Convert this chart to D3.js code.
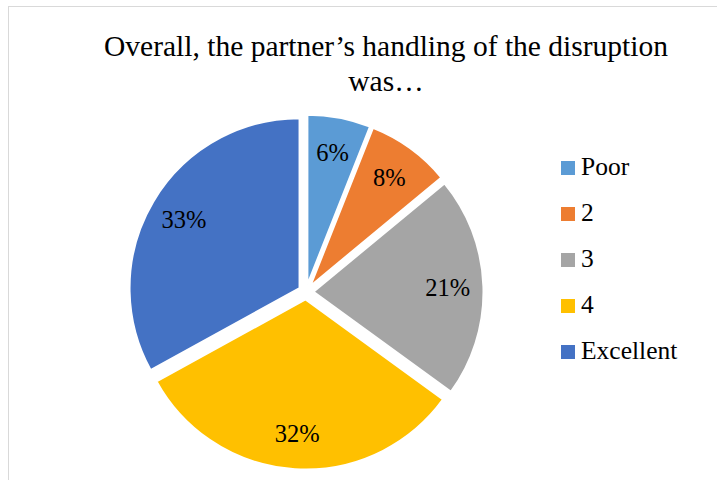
<!DOCTYPE html>
<html>
<head>
<meta charset="utf-8">
<script src="https://cdn.jsdelivr.net/npm/d3@7"></script>
</head>
<body style="margin:0">
<svg id="chart" width="717" height="480"></svg>
<script>
// Survey answers: share of respondents per rating
const categories = ["Poor", "2", "3", "4", "Excellent"];
const values = [6, 8, 21, 32, 33];
const colors = ["#5B9BD5", "#ED7D31", "#A5A5A5", "#FFC000", "#4472C4"];
const titleLines = ["Overall, the partner\u2019s handling of the disruption", "was\u2026"];

const FONT = "'Liberation Serif', Tinos, 'Times New Roman', FreeSerif, serif";
const svg = d3.select("#chart");

// chart frame (only its left and top edges fall inside the view)
svg.append("rect")
  .attr("x", 8.5).attr("y", 6.5)
  .attr("width", 900).attr("height", 700)
  .attr("fill", "#fff")
  .attr("stroke", "#d9d9d9")
  .attr("stroke-width", 1);

// two-line title
titleLines.forEach((line, i) => {
  svg.append("text")
    .attr("x", 386)
    .attr("y", 56 + i * 35)
    .attr("text-anchor", "middle")
    .style("font-family", FONT)
    .style("font-size", "29.5px")
    .attr("fill", "#000")
    .text(line);
});

// exploded pie
const cx = 306, cy = 292, R = 170, explode = 7.5;
const pie = d3.pie().sort(null).value(d => d.value);
const arcs = pie(categories.map((c, i) => ({ cat: c, value: values[i], color: colors[i] })));
const arc = d3.arc().innerRadius(0).outerRadius(R);
const total = d3.sum(values);

const mid = d => (d.startAngle + d.endAngle) / 2;
const offset = (d, r) => [Math.sin(mid(d)) * r, -Math.cos(mid(d)) * r];

const slices = svg.append("g").attr("transform", `translate(${cx},${cy})`);

const slice = slices.selectAll("g.slice")
  .data(arcs)
  .join("g")
  .attr("class", "slice")
  .attr("transform", d => {
    const [dx, dy] = offset(d, explode);
    return `translate(${dx},${dy})`;
  });

slice.append("path")
  .attr("d", arc)
  .attr("fill", d => d.data.color)
  .attr("stroke", "#fff")
  .attr("stroke-width", 2)
  .attr("stroke-linejoin", "miter");

// percentage labels inside each slice
const labelR = R * 0.79;
slice.append("text")
  .attr("x", d => offset(d, labelR)[0])
  .attr("y", d => offset(d, labelR)[1])
  .attr("text-anchor", "middle")
  .attr("dy", "0.34em")
  .style("font-family", FONT)
  .style("font-size", "24.5px")
  .attr("fill", "#000")
  .text(d => `${Math.round(d.data.value / total * 100)}%`);

// legend
const legend = svg.append("g").attr("transform", "translate(561,161)");
const row = legend.selectAll("g")
  .data(categories)
  .join("g")
  .attr("transform", (d, i) => `translate(0,${i * 46})`);

row.append("rect")
  .attr("width", 14).attr("height", 14)
  .attr("fill", (d, i) => colors[i]);

row.append("text")
  .attr("x", 20)
  .attr("y", 14)
  .style("font-family", FONT)
  .style("font-size", "25.5px")
  .attr("fill", "#000")
  .text(d => d);
</script>
</body>
</html>
